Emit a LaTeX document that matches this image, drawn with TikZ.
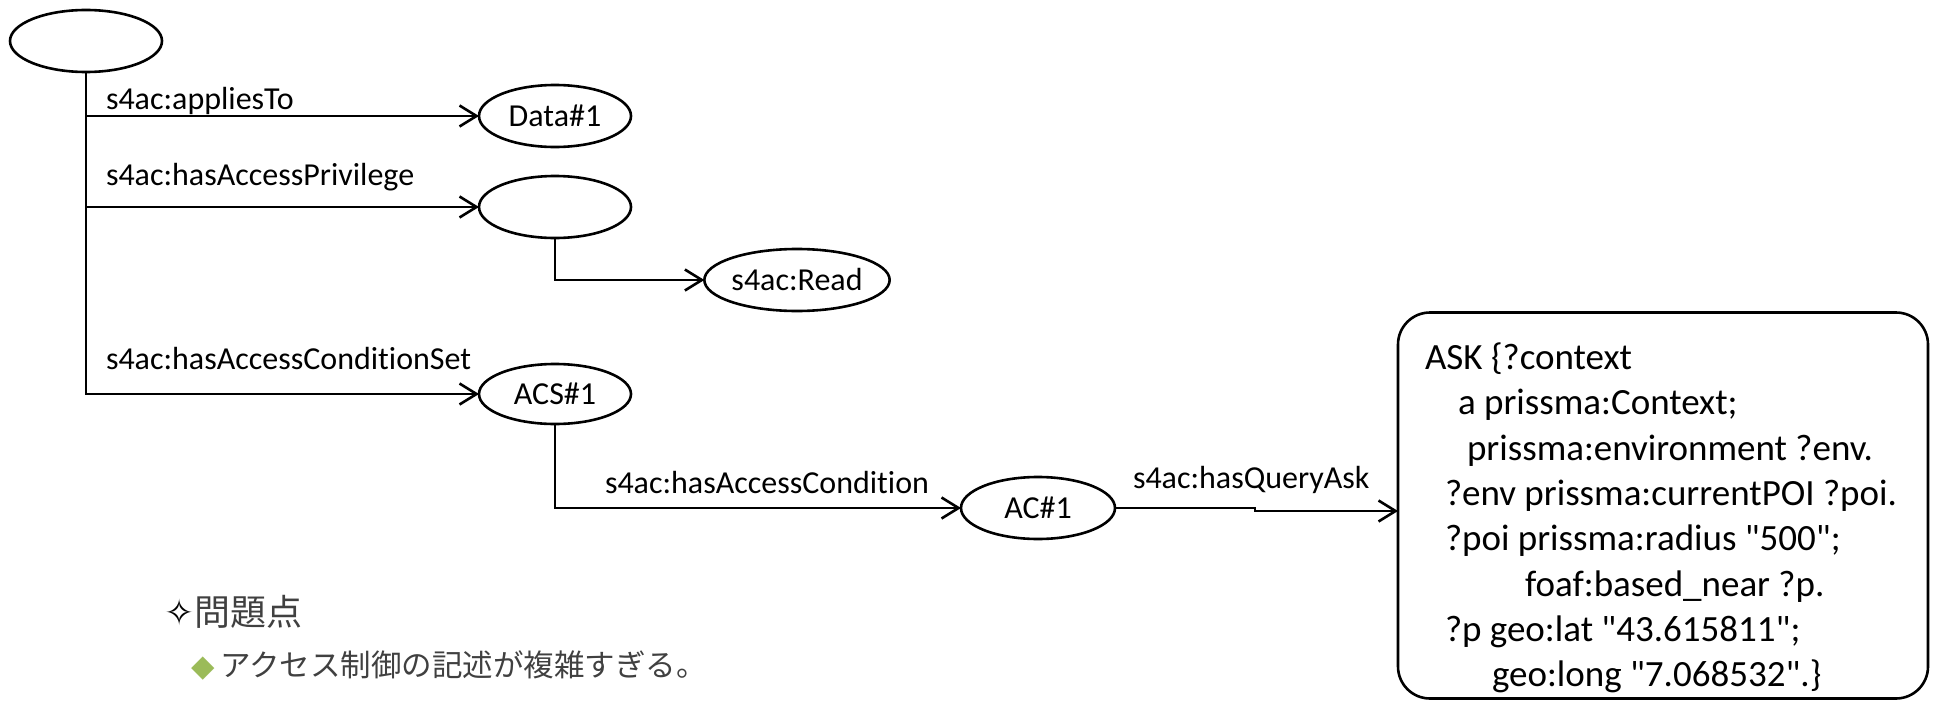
\documentclass[tikz,border=0pt]{standalone}
\usepackage{fontspec}
\setmainfont{Carlito}[Ligatures={TeXOff,NoCommon}]
\newfontfamily\jpfont{Noto Sans CJK JP}
\newfontfamily\symfont{DejaVu Sans}
\usetikzlibrary{shapes.geometric,arrows.meta}
\definecolor{jpgray}{HTML}{404040}
\definecolor{bulletgreen}{HTML}{9BBB59}
\begin{document}
\begin{tikzpicture}[x=1pt,y=-1pt,
  every node/.style={inner sep=0pt, outer sep=0pt},
  res/.style={ellipse, draw, line width=2.6pt, font=\fontsize{32}{38}\selectfont},
  link/.style={line width=2.6pt, -{Straight Barb[length=17pt,width=21pt]}},
  elabel/.style={anchor=base west, font=\fontsize{32}{38}\selectfont},
  qline/.style={anchor=base west, font=\fontsize{37}{45}\selectfont}]
\useasboundingbox (0,0) rectangle (1933,701);

% resources
\node[res, minimum width=152pt, minimum height=62pt] (root) at (86,41) {};
\node[res, minimum width=152pt, minimum height=62pt] (data) at (555,116) {Data\#1};
\node[res, minimum width=152pt, minimum height=62pt] (priv) at (555,207) {};
\node[res, minimum width=184pt, minimum height=62pt] (read) at (797,280) {s4ac:Read};
\node[res, minimum width=152pt, minimum height=60pt] (acs) at (555,394) {ACS\#1};
\node[res, minimum width=154pt, minimum height=62pt] (ac) at (1038,508) {AC\#1};

% SPARQL query box
\node[draw, line width=2.6pt, rounded corners=32pt, minimum width=530pt, minimum height=386pt] (query) at (1663,505.5) {};
\coordinate (qin) at ([yshift=-5.5pt]query.west);

% properties
\draw[link] (root.south) |- (acs.west);
\draw[link] (root.south |- data.west) -- (data.west);
\draw[link] (root.south |- priv.west) -- (priv.west);
\draw[link] (priv.south) |- (read.west);
\draw[link] (acs.south) |- (ac.west);
\draw[link] (ac.east) -- ++(140,0) |- (qin);

\node[elabel] (l1) at (106,109) {s4ac:appliesTo};
\node[elabel] (l2) at (106,185) {s4ac:hasAccessPrivilege};
\node[elabel] (l3) at (106,369) {s4ac:hasAccessConditionSet};
\node[elabel] (l4) at (605,493) {s4ac:hasAccessCondition};
\node[elabel] (l5) at (1133,488) {s4ac:hasQueryAsk};

% query text
\node[qline] (q1) at (1425,369) {ASK \{?context};
\node[qline] (q2) at (1458,414) {a prissma:Context;};
\node[qline] (q3) at (1467,460) {prissma:environment ?env.};
\node[qline] (q4) at (1445,505) {?env prissma:currentPOI ?poi.};
\node[qline] (q5) at (1445,550) {?poi prissma:radius "500";};
\node[qline] (q6) at (1525,596) {foaf:based\_near ?p.};
\node[qline] (q7) at (1445,641) {?p geo:lat "43.615811";};
\node[qline] (q8) at (1492,686) {geo:long "7.068532".\}};

% issues
\node[anchor=west, font=\fontsize{36}{42}\selectfont] (issue) at (164,612)
  {{\symfont\color{black}✧}{\jpfont\color{jpgray}問題点}};
\node[anchor=west, font=\fontsize{30.5}{36}\selectfont] (point) at (191,665)
  {{\symfont\color{bulletgreen}◆}\hspace{6pt}{\jpfont\color{jpgray}アクセス制御の記述が複雑すぎる。}};
\end{tikzpicture}
\end{document}
